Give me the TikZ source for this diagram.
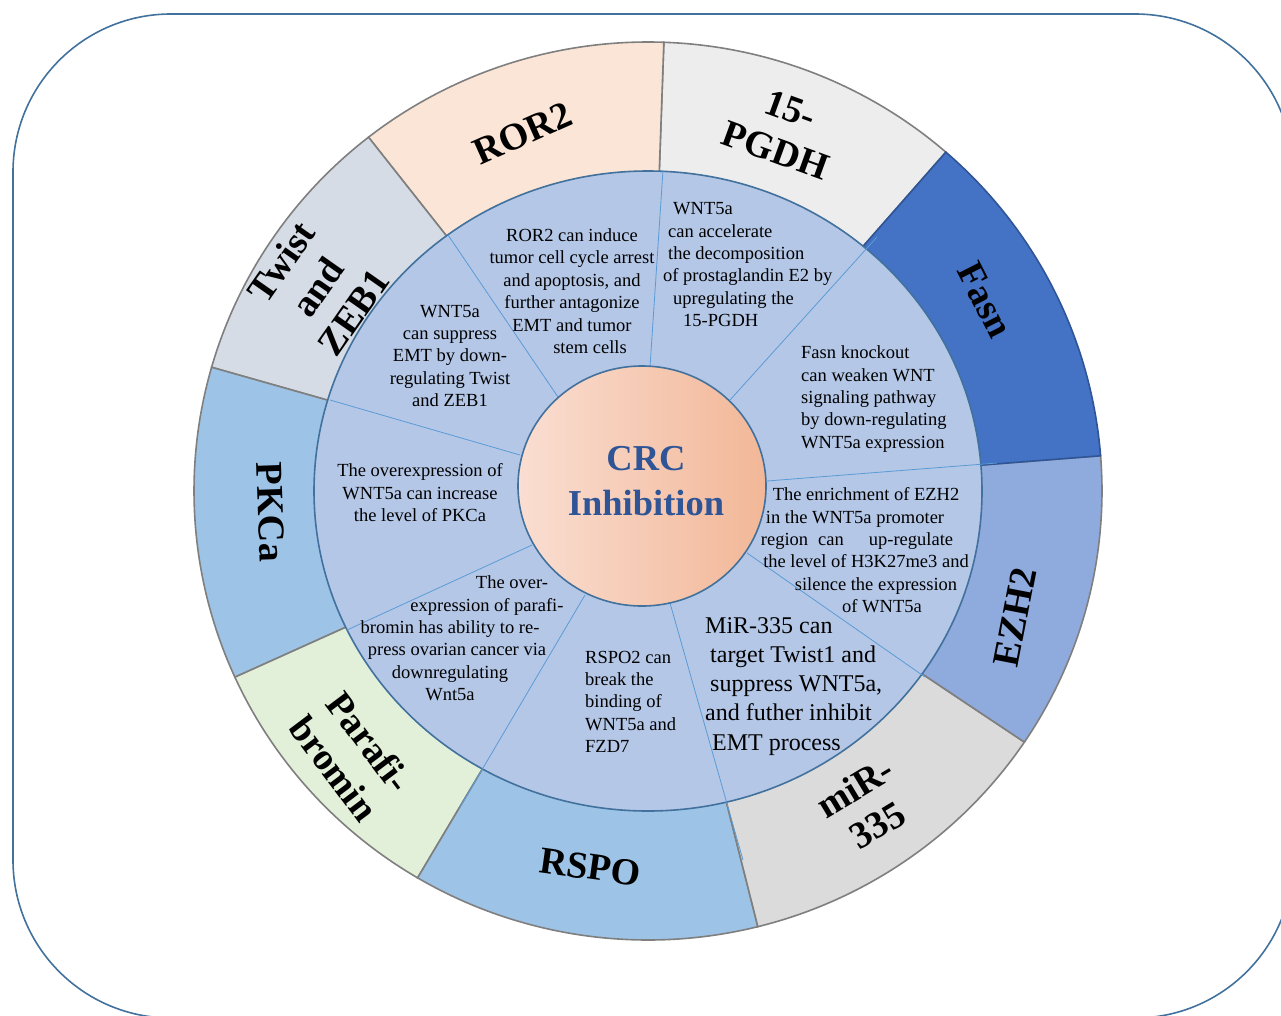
\documentclass[tikz,border=0pt]{standalone}
\usepackage{fontspec}
\setmainfont{Liberation Serif}
\usetikzlibrary{shapes.geometric}

\definecolor{framecol}{HTML}{41719C}
\definecolor{ringcol}{HTML}{B4C7E7}
\definecolor{divcol}{HTML}{5B9BD5}
\definecolor{segcol}{HTML}{7F7F7F}
\definecolor{rorcol}{HTML}{FBE5D6}
\definecolor{pgdhcol}{HTML}{EDEDED}
\definecolor{fasncol}{HTML}{4472C4}
\definecolor{fasnline}{HTML}{2F5597}
\definecolor{ezhcol}{HTML}{8FAADC}
\definecolor{mircol}{HTML}{DBDBDB}
\definecolor{rspocol}{HTML}{9DC3E6}
\definecolor{paracol}{HTML}{E2F0D9}
\definecolor{pkccol}{HTML}{9DC3E6}
\definecolor{twistcol}{HTML}{D6DCE5}
\definecolor{coreleft}{RGB}{250,222,210}
\definecolor{coreright}{RGB}{242,183,151}
\definecolor{crcblue}{HTML}{2F5597}

\begin{document}
\begin{tikzpicture}[
        x=1pt, y=1pt,
        every node/.style={inner sep=0pt, font=\fontsize{18.5}{22.4}\selectfont},
        note/.style={align=center, anchor=north},
        leftnote/.style={align=left, anchor=north west},
        bignote/.style={align=left, anchor=north west, font=\fontsize{24}{29.3}\selectfont},
        tag/.style={align=center, font=\bfseries\fontsize{38}{44}\selectfont},
        seg/.style={line width=1.6pt},
        divider/.style={draw=divcol, line width=0.8pt},
        core/.style={ellipse, minimum width=248pt, minimum height=240pt, draw=framecol, line width=1.6pt, left color=coreleft, right color=coreright},
        crc/.style={align=center, text=crcblue, font=\bfseries\fontsize{36.5}{45}\selectfont}
    ]
        \useasboundingbox (0,0) rectangle (1281,-1015);
        \clip (0,0) rectangle (1281,-1015);

        % Cornice
        \draw[framecol, line width=1.6pt, rounded corners=158pt] (13,-14) rectangle (1293,-1018);

        % Settori esterni
        \foreach \a/\b/\col/\edge in {49/88/pgdhcol/segcol, 88/128/rorcol/segcol, 128/164/twistcol/segcol,
            164/204.5/pkccol/segcol, 204.5/239.5/paracol/segcol, 239.5/284/rspocol/segcol,
            284/326/mircol/segcol, 326/364.5/ezhcol/segcol, 4.5/49/fasncol/fasnline}
            \filldraw[seg, fill=\col, draw=\edge] (648,-491) -- ++(\a:454 and 449)
                arc[start angle=\a, end angle=\b, x radius=454, y radius=449] -- cycle;

        % Anello intermedio
        \filldraw[fill=ringcol, draw=framecol, line width=1.6pt] (648,-491) ellipse[x radius=334, y radius=320];

        % Divisori
        \foreach \p/\q in {{(650,-367)}/{(663,-170)}, {(730,-400)}/{(877,-237)}, {(767,-481)}/{(997,-463)},
            {(747,-553)}/{(925,-677)}, {(670,-603)}/{(743,-860)}, {(585,-595)}/{(460,-807)},
            {(532,-545)}/{(347,-630)}, {(520,-455)}/{(330,-400)}, {(558,-397)}/{(448,-235)}}
            \draw[divider] \p -- \q;

        % Centro
        \node[core] (core) at (642,-486) {};
        \node[crc] (crc) at (646,-481) {CRC\\Inhibition};

        % Testi
        \node[note] (noteror) at (572,-228.4) {ROR2 can induce\\tumor cell cycle arrest\\and apoptosis, and\\further antagonize\\EMT and tumor\\\hspace*{36pt}stem cells};
        \node[leftnote] (notepgdh) at (663,-202.4) {\hspace*{10pt}WNT5a\\\hspace*{5pt}can accelerate\\\hspace*{5pt}the decomposition\\of prostaglandin E2 by\\\hspace*{10pt}upregulating the\\\hspace*{20pt}15-PGDH};
        \node[leftnote] (notefasn) at (801,-345.7) {Fasn knockout\\can weaken WNT\\signaling pathway\\by down-regulating\\WNT5a expression};
        \node[note] (noteezh) at (866,-487.4) {The enrichment of EZH2\\\hspace*{-22pt}in the WNT5a promoter\\\hspace*{-18pt}region\hspace{10pt}can\hspace{25pt}up-regulate\\the level of H3K27me3 and\\\hspace*{20pt}silence the expression\\\hspace*{32pt}of WNT5a};
        \node[bignote] (notemir) at (705,-616.9) {MiR-335 can\\\hspace*{5pt}target Twist1 and\\\hspace*{5pt}suppress WNT5a,\\and futher inhibit\\\hspace*{7pt}EMT process};
        \node[leftnote] (noterspo) at (585,-650.7) {RSPO2 can\\break the\\binding of\\WNT5a and\\FZD7};
        \node[note] (notepara) at (450,-575.7) {\hspace*{124pt}The over-\\\hspace*{74pt}expression of parafi-\\bromin has ability to re-\\\hspace*{14pt}press ovarian cancer via\\downregulating\\Wnt5a};
        \node[note] (notepkc) at (420,-463.4) {The overexpression of\\WNT5a can increase\\the level of PKCa};
        \node[note] (notetwist) at (450,-304.7) {WNT5a\\can suppress\\EMT by down-\\regulating Twist\\and ZEB1};

        % Etichette
        \node[tag, rotate=24] (tagror) at (523,-133) {ROR2};
        \node[tag, rotate=-20] (tagpgdh) at (783,-130) {15-\\PGDH};
        \node[tag, rotate=-63] (tagfasn) at (985,-300) {Fasn};
        \node[tag, rotate=79] (tagezh) at (1015,-617) {EZH2};
        \node[tag, rotate=31] (tagmir) at (866,-806) {miR-\\335};
        \node[tag, rotate=-8] (tagrspo) at (590,-867) {RSPO};
        \node[tag, rotate=-53] (tagpara) at (352,-755) {Parafi-\\bromin};
        \node[tag, rotate=-88] (tagpkc) at (271,-512) {PKCa};
        \node[tag, rotate=55] (tagtwist) at (317,-287) {Twist\\and\\ZEB1};
\end{tikzpicture}
\end{document}
